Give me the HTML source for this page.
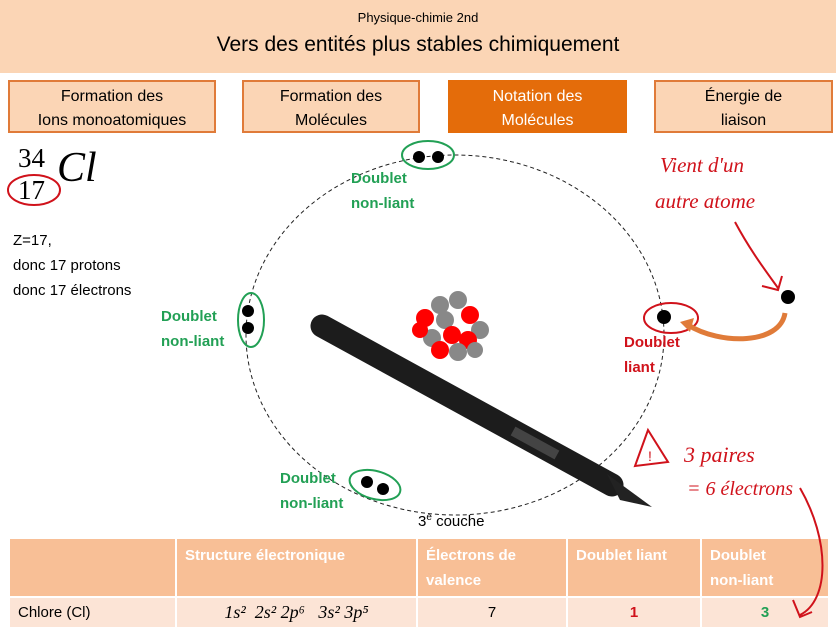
<!DOCTYPE html>
<html><head><meta charset="utf-8"><style>
body{margin:0;width:836px;height:631px;overflow:hidden;background:#fff;font-family:"Liberation Sans",sans-serif;position:relative}
.hdr{position:absolute;left:0;top:0;width:836px;height:73px;background:#fbd5b5}
.t1{position:absolute;top:10px;width:836px;text-align:center;font-size:13px}
.t2{position:absolute;top:33px;width:836px;text-align:center;font-size:21px}
.tab{position:absolute;top:80px;height:53px;background:#fbd5b5;border:2px solid #e07b39;box-sizing:border-box;text-align:center;font-size:16px;line-height:24px;padding-top:3px}
.tab.a{background:#e46c0a;color:#fff;border-color:#e46c0a}
.abs{position:absolute}
.g{color:#22a055;font-weight:bold;font-size:15px;line-height:25px}
.r{color:#d0121b;font-weight:bold;font-size:15px;line-height:25px}
table{position:absolute;left:8px;top:537px;border-collapse:collapse;font-size:15px;table-layout:fixed;width:820px}
td{border:2px solid #fff;padding:0 8px;overflow:hidden}
.h td{background:#f8bf96;color:#fff;font-weight:bold;height:53px;vertical-align:top;padding-top:4px;line-height:25px}
.d td{background:#fce4d6;height:29px}
</style></head><body>
<div class="hdr"></div>
<div class="t1">Physique-chimie 2nd</div>
<div class="t2">Vers des entités plus stables chimiquement</div>
<div class="tab" style="left:8px;width:208px">Formation des<br>Ions monoatomiques</div>
<div class="tab" style="left:242px;width:178px">Formation des<br>Molécules</div>
<div class="tab a" style="left:448px;width:179px">Notation des<br>Molécules</div>
<div class="tab" style="left:654px;width:179px">Énergie de<br>liaison</div>
<div class="abs" style="left:18px;top:142px;font-family:'Liberation Serif',serif;font-size:27px;line-height:32px">34<br>17</div>
<div class="abs" style="left:57px;top:144px;font-family:'Liberation Serif',serif;font-size:42px;font-style:italic">Cl</div>
<div class="abs" style="left:13px;top:228px;font-size:15px;line-height:25px">Z=17,<br>donc 17 protons<br>donc 17 électrons</div>
<svg class="abs" style="left:0;top:0" width="836" height="631">
<ellipse cx="34" cy="190" rx="26" ry="15" fill="none" stroke="#d0121b" stroke-width="2"/>
<ellipse cx="455" cy="335" rx="209" ry="180" fill="none" stroke="#222" stroke-dasharray="4,3"/>
<g>
<circle cx="440" cy="305" r="9" fill="#888"/><circle cx="458" cy="300" r="9" fill="#888"/><circle cx="425" cy="318" r="9" fill="red"/><circle cx="445" cy="320" r="9" fill="#888"/><circle cx="470" cy="315" r="9" fill="red"/><circle cx="480" cy="330" r="9" fill="#888"/><circle cx="432" cy="338" r="9" fill="#888"/><circle cx="452" cy="335" r="9" fill="red"/><circle cx="468" cy="340" r="9" fill="red"/><circle cx="440" cy="350" r="9" fill="red"/><circle cx="458" cy="352" r="9" fill="#888"/><circle cx="420" cy="330" r="8" fill="red"/><circle cx="475" cy="350" r="8" fill="#888"/>
</g>
<line x1="322" y1="326" x2="612" y2="485" stroke="#1c1c1c" stroke-width="23" stroke-linecap="round"/>
<polygon points="607,474 620,500 652,507" fill="#222"/>
<rect x="510" y="438" width="50" height="10" fill="#444" transform="rotate(28.6 535 443)"/>
<ellipse cx="428" cy="155" rx="26" ry="14" fill="none" stroke="#22a055" stroke-width="2"/>
<circle cx="419" cy="157" r="6" fill="#000"/><circle cx="438" cy="157" r="6" fill="#000"/>
<ellipse cx="251" cy="320" rx="13" ry="27" fill="none" stroke="#22a055" stroke-width="2"/>
<circle cx="248" cy="311" r="6" fill="#000"/><circle cx="248" cy="328" r="6" fill="#000"/>
<ellipse cx="375" cy="485" rx="26" ry="14" fill="none" stroke="#22a055" stroke-width="2" transform="rotate(15 375 485)"/>
<circle cx="367" cy="482" r="6" fill="#000"/><circle cx="383" cy="489" r="6" fill="#000"/>
<ellipse cx="671" cy="318" rx="27" ry="15" fill="none" stroke="#d0121b" stroke-width="2"/>
<circle cx="664" cy="317" r="7" fill="#000"/>
<circle cx="788" cy="297" r="7" fill="#000"/>
<path d="M785,313 C780,345 720,345 688,325" fill="none" stroke="#e07b39" stroke-width="5"/>
<polygon points="680,322 694,318 690,332" fill="#e07b39"/>
<path d="M735,222 C750,250 765,270 778,288 M762,286 L778,290 L782,276" fill="none" stroke="#d0121b" stroke-width="2"/>
<text x="660" y="172" fill="#d0121b" font-family="Liberation Serif,serif" font-style="italic" font-size="21">Vient d'un</text>
<text x="655" y="208" fill="#d0121b" font-family="Liberation Serif,serif" font-style="italic" font-size="21">autre atome</text>
<polygon points="648,430 635,466 668,462" fill="none" stroke="#d0121b" stroke-width="2"/>
<text x="648" y="461" fill="#d0121b" font-size="14">!</text>
<text x="684" y="462" fill="#d0121b" font-family="Liberation Serif,serif" font-style="italic" font-size="22">3 paires</text>
<text x="687" y="495" fill="#d0121b" font-family="Liberation Serif,serif" font-style="italic" font-size="20">= 6 électrons</text>
</svg>
<div class="abs g" style="left:351px;top:166px">Doublet<br>non-liant</div>
<div class="abs g" style="left:161px;top:304px">Doublet<br>non-liant</div>
<div class="abs g" style="left:280px;top:466px">Doublet<br>non-liant</div>
<div class="abs r" style="left:624px;top:330px">Doublet<br>liant</div>
<div class="abs" style="left:418px;top:512px;font-size:15px">3<sup style="font-size:10px">e</sup> couche</div>
<table>
<colgroup><col style="width:167px"><col style="width:241px"><col style="width:150px"><col style="width:134px"><col style="width:128px"></colgroup>
<tr class="h"><td></td><td>Structure électronique</td><td>Électrons de valence</td><td>Doublet liant</td><td>Doublet<br>non-liant</td></tr>
<tr class="d"><td>Chlore (Cl)</td><td style="font-family:'Liberation Serif',serif;font-style:italic;font-size:18px;text-align:center">1s² &nbsp;2s² 2p⁶ &nbsp;&nbsp;3s² 3p⁵</td><td style="text-align:center">7</td><td style="text-align:center;color:#d0121b;font-weight:bold">1</td><td style="text-align:center;color:#22a055;font-weight:bold">3</td></tr>
</table>
<svg class="abs" style="left:0;top:0;z-index:2" width="836" height="631">
<path d="M800,488 C830,540 830,600 800,615 M793,600 L800,617 L812,612" fill="none" stroke="#d0121b" stroke-width="2"/>
</svg>
</body></html>
